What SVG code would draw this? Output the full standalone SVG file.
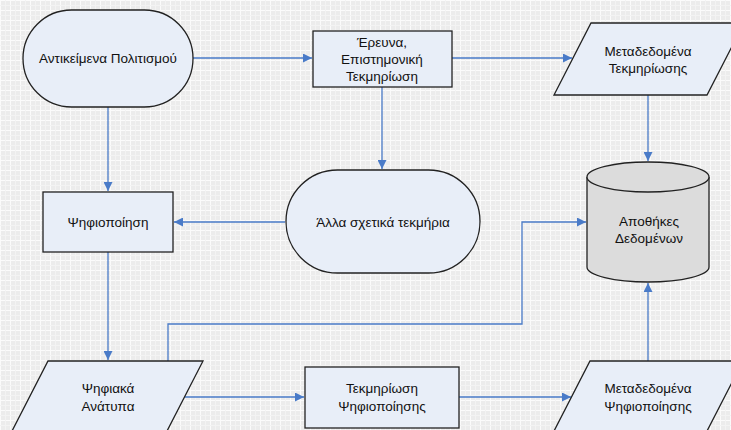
<svg xmlns="http://www.w3.org/2000/svg" width="731" height="430" viewBox="0 0 731 430">
<defs>
<pattern id="grid" width="10" height="10" patternUnits="userSpaceOnUse">
<rect width="10" height="10" fill="#ececec"/>
<path d="M0 0.5H10M0.5 0V10" stroke="#fbfbfb" stroke-width="1"/>
<path d="M0 5.5H10M5.5 0V10" stroke="#f3f3f3" stroke-width="1"/>
</pattern>
<marker id="arr" viewBox="0 0 10 10" refX="10" refY="5" markerWidth="9" markerHeight="9" markerUnits="userSpaceOnUse" orient="auto">
<path d="M0 0L10 5L0 10Z" fill="#4a7bc8"/>
</marker>
<style>
.c{fill:none;stroke:#4a7bc8;stroke-width:1.3}
.n{fill:#e8eef8;stroke:#222;stroke-width:1.3}
.db{fill:#dcdcdc;stroke:#222;stroke-width:1.3}
text{font-family:"Liberation Sans",Arial,sans-serif;font-size:13.5px;fill:#111;text-anchor:middle}
</style>
</defs>
<rect width="731" height="430" fill="url(#grid)"/>
<g id="connectors">
<path class="c" d="M193 58H312" marker-end="url(#arr)"/>
<path class="c" d="M452 58H572" marker-end="url(#arr)"/>
<path class="c" d="M648 95V161" marker-end="url(#arr)"/>
<path class="c" d="M382 87V169" marker-end="url(#arr)"/>
<path class="c" d="M108 107V191" marker-end="url(#arr)"/>
<path class="c" d="M285 222H174" marker-end="url(#arr)"/>
<path class="c" d="M108 252V360" marker-end="url(#arr)"/>
<path class="c" d="M168 361V324H522V222H586" marker-end="url(#arr)"/>
<path class="c" d="M185 397H304" marker-end="url(#arr)"/>
<path class="c" d="M459 397H571" marker-end="url(#arr)"/>
<path class="c" d="M648 361V283" marker-end="url(#arr)"/>
</g>
<g id="antikeimena">
<rect class="n" x="23" y="10" width="170" height="97" rx="48.5" ry="48.5"/>
<text x="108" y="63">Αντικείμενα Πολιτισμού</text>
</g>
<g id="ereuna">
<rect class="n" x="313" y="31" width="139" height="56"/>
<text x="382" y="47">Έρευνα,</text>
<text x="382" y="64">Επιστημονική</text>
<text x="382" y="81">Τεκμηρίωση</text>
</g>
<g id="metadedomena-tekmiriosis">
<path class="n" d="M591 23H744L707 95H554Z"/>
<text x="648" y="56">Μεταδεδομένα</text>
<text x="648" y="73">Τεκμηρίωσης</text>
</g>
<g id="psifiopoiisi">
<rect class="n" x="43" y="192" width="130" height="60"/>
<text x="108" y="227">Ψηφιοποίηση</text>
</g>
<g id="alla">
<rect class="n" x="286" y="170" width="194" height="103" rx="51.5" ry="51.5"/>
<text x="383" y="227">Άλλα σχετικά τεκμήρια</text>
</g>
<g id="apothikes">
<path class="db" d="M587 177V267A61 15 0 0 0 709 267V177"/>
<ellipse class="db" cx="648" cy="177" rx="61" ry="15"/>
<text x="649" y="226">Αποθήκες</text>
<text x="649" y="243">Δεδομένων</text>
</g>
<g id="psifiaka-anatypa">
<path class="n" d="M48 361H203L166 433H11Z"/>
<text x="108" y="393">Ψηφιακά</text>
<text x="108" y="411">Ανάτυπα</text>
</g>
<g id="tekmiriosi-psifiopoiisis">
<rect class="n" x="305" y="367" width="154" height="61"/>
<text x="382" y="393">Τεκμηρίωση</text>
<text x="382" y="411">Ψηφιοποίησης</text>
</g>
<g id="metadedomena-psifiopoiisis">
<path class="n" d="M590 361H743L706 433H553Z"/>
<text x="648" y="393">Μεταδεδομένα</text>
<text x="648" y="411">Ψηφιοποίησης</text>
</g>
</svg>
